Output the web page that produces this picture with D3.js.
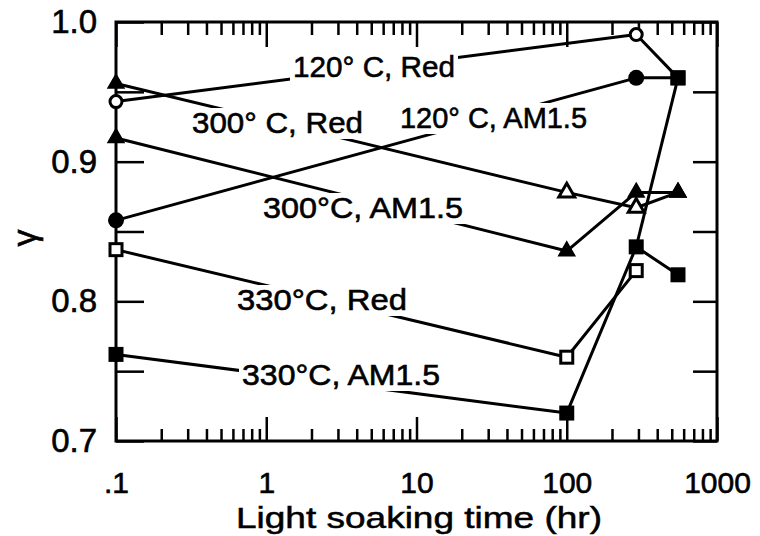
<!DOCTYPE html>
<html>
<head>
<meta charset="utf-8">
<script src="https://cdn.jsdelivr.net/npm/d3@7"></script>
<style>
  body { margin: 0; background: #fff; }
  svg { display: block; }
  text { font-family: "Liberation Sans", Arial, sans-serif; fill: #000; }
</style>
</head>
<body>
<div id="chart"></div>
<script>
// values (gamma vs light soaking time)
const seriesNames = ["120° C, Red", "120° C, AM1.5", "300° C, Red", "300°C, AM1.5", "330°C, Red", "330°C, AM1.5"];
const seriesTimes = [
    [0.1, 290, 550],
    [0.1, 290, 550],
    [0.1, 100, 290, 550],
    [0.1, 100, 290, 550],
    [0.1, 100, 290],
    [0.1, 100, 290, 550]
];
const seriesGamma = [
    [0.943, 0.991, 0.960],
    [0.858, 0.960, 0.960],
    [0.956, 0.878, 0.867, 0.878],
    [0.917, 0.836, 0.878, 0.878],
    [0.837, 0.760, 0.822],
    [0.762, 0.720, 0.839, 0.819]
];
const seriesMarkers = [
    ["circleOpen", "circleOpen", "squareFilled"],
    ["circleFilled", "circleFilled", "squareFilled"],
    ["triFilled", "triOpen", "triOpen", "triFilled"],
    ["triFilled", "triFilled", "triFilled", "triFilled"],
    ["squareOpen", "squareOpen", "squareOpen"],
    ["squareFilled", "squareFilled", "squareFilled", "squareFilled"]
];
// extra segment in the figure: 290 hr square tied up to the 550 hr point at 0.96
const linkTimes = [290, 550];
const linkGamma = [0.839, 0.960];

const xTickValues = [0.1, 1, 10, 100, 1000];
const xTickLabels = [".1", "1", "10", "100", "1000"];
const yTickValues = [0.7, 0.75, 0.8, 0.85, 0.9, 0.95, 1.0];
const yTickLabels = ["0.7", "", "0.8", "", "0.9", "", "1.0"];

// where the curve labels sit (left edge, baseline, width in px)
const labelLayout = [
    { x: 293, y: 77, w: 162 },
    { x: 400, y: 128, w: 187 },
    { x: 192, y: 133, w: 171 },
    { x: 263, y: 218, w: 200 },
    { x: 237, y: 310, w: 170 },
    { x: 242, y: 385, w: 198 }
];

const width = 760, height = 536;
const plotLeft = 116, plotRight = 717, plotTop = 22, plotBottom = 441;

const x = d3.scaleLog().domain([0.1, 1000]).range([plotLeft, plotRight]);
const y = d3.scaleLinear().domain([0.7, 1.0]).range([plotBottom, plotTop]);

const svg = d3.select('#chart')
    .append('svg')
    .attr('width', width)
    .attr('height', height);

// minor log ticks 2..9 in each decade
let minorTicks = [];
[0.1, 1, 10, 100].forEach(function (dec) {
    for (let k = 2; k <= 9; k++) minorTicks.push(dec * k);
});

function styleAxis(g) {
    g.select('.domain').remove();
    g.selectAll('.tick line').attr('stroke', '#000').attr('stroke-width', 2.5);
}

// bottom axis, ticks pointing inward
svg.append('g')
    .attr('transform', 'translate(0,' + plotBottom + ')')
    .call(d3.axisBottom(x).tickValues(minorTicks).tickSize(-12).tickFormat(''))
    .call(styleAxis);
svg.append('g')
    .attr('transform', 'translate(0,' + plotBottom + ')')
    .call(d3.axisBottom(x).tickValues(xTickValues).tickSize(-24).tickPadding(31)
        .tickFormat((d, i) => xTickLabels[i]))
    .call(styleAxis)
    .selectAll('text')
    .attr('font-size', 30)
    .attr('font-family', '"Liberation Sans", Arial, sans-serif')
    .style('stroke', '#000').style('stroke-width', 0.6);

// top axis
svg.append('g')
    .attr('transform', 'translate(0,' + plotTop + ')')
    .call(d3.axisTop(x).tickValues(minorTicks).tickSize(-13).tickFormat(''))
    .call(styleAxis);
svg.append('g')
    .attr('transform', 'translate(0,' + plotTop + ')')
    .call(d3.axisTop(x).tickValues(xTickValues).tickSize(-25).tickFormat(''))
    .call(styleAxis);

// left axis
svg.append('g')
    .attr('transform', 'translate(' + plotLeft + ',0)')
    .call(d3.axisLeft(y).tickValues(yTickValues).tickSize(-28).tickPadding(19)
        .tickFormat((d, i) => yTickLabels[i]))
    .call(styleAxis)
    .selectAll('text')
    .attr('font-size', 33)
    .attr('font-family', '"Liberation Sans", Arial, sans-serif')
    .style('stroke', '#000').style('stroke-width', 0.6);

// right axis
svg.append('g')
    .attr('transform', 'translate(' + plotRight + ',0)')
    .call(d3.axisRight(y).tickValues(yTickValues).tickSize(-24).tickFormat(''))
    .call(styleAxis);

// frame
svg.append('rect')
    .attr('x', plotLeft).attr('y', plotTop)
    .attr('width', plotRight - plotLeft).attr('height', plotBottom - plotTop)
    .attr('fill', 'none').attr('stroke', '#000').attr('stroke-width', 3);

// axis titles
svg.append('text')
    .attr('x', 236).attr('y', 528)
    .attr('font-size', 29)
    .attr('textLength', 366).attr('lengthAdjust', 'spacingAndGlyphs')
    .style('stroke', '#000').style('stroke-width', 0.5)
    .text('Light soaking time (hr)');

svg.append('text')
    .attr('transform', 'translate(36,238) rotate(-90)')
    .attr('text-anchor', 'middle')
    .attr('font-size', 34)
    .style('stroke', '#000').style('stroke-width', 0.6)
    .text('γ');

// series lines
const line = d3.line().x(d => x(d.t)).y(d => y(d.g));
const series = seriesNames.map(function (name, i) {
    return {
        name: name,
        points: seriesTimes[i].map((t, j) => ({ t: t, g: seriesGamma[i][j], m: seriesMarkers[i][j] }))
    };
});

const lines = svg.append('g');
lines.selectAll('path.series')
    .data(series)
    .enter().append('path')
    .attr('class', 'series')
    .attr('d', d => line(d.points))
    .attr('fill', 'none')
    .attr('stroke', '#000')
    .attr('stroke-width', 3)
    .attr('stroke-linejoin', 'round');

lines.append('path')
    .attr('d', line(linkTimes.map((t, j) => ({ t: t, g: linkGamma[j] }))))
    .attr('fill', 'none')
    .attr('stroke', '#000')
    .attr('stroke-width', 3);

// curve labels, knocked out of the lines
const labels = svg.append('g');
series.forEach(function (s, i) {
    let L = labelLayout[i];
    labels.append('rect')
        .attr('x', L.x - 3).attr('y', L.y - 25)
        .attr('width', L.w + 6).attr('height', 31)
        .attr('fill', '#fff');
    labels.append('text')
        .attr('x', L.x).attr('y', L.y)
        .attr('font-size', 30)
        .attr('textLength', L.w).attr('lengthAdjust', 'spacingAndGlyphs')
        .style('stroke', '#000').style('stroke-width', 0.6)
        .text(s.name);
});

// markers on top
const allPoints = [];
series.forEach(s => s.points.forEach(p => allPoints.push(p)));
const tri = d3.symbol().type(d3.symbolTriangle).size(110);

const marks = svg.append('g');
allPoints.forEach(function (p) {
    let cx = x(p.t), cy = y(p.g);
    if (p.m === 'circleOpen') {
        marks.append('circle').attr('cx', cx).attr('cy', cy).attr('r', 6)
            .attr('fill', '#fff').attr('stroke', '#000').attr('stroke-width', 3);
    } else if (p.m === 'circleFilled') {
        marks.append('circle').attr('cx', cx).attr('cy', cy).attr('r', 8).attr('fill', '#000');
    } else if (p.m === 'squareOpen') {
        marks.append('rect').attr('x', cx - 6).attr('y', cy - 6).attr('width', 12).attr('height', 12)
            .attr('fill', '#fff').attr('stroke', '#000').attr('stroke-width', 3);
    } else if (p.m === 'squareFilled') {
        marks.append('rect').attr('x', cx - 7.5).attr('y', cy - 7.5).attr('width', 15).attr('height', 15)
            .attr('fill', '#000');
    } else if (p.m === 'triOpen') {
        marks.append('path').attr('d', tri).attr('transform', 'translate(' + cx + ',' + cy + ')')
            .attr('fill', '#fff').attr('stroke', '#000').attr('stroke-width', 3);
    } else {
        marks.append('path').attr('d', tri).attr('transform', 'translate(' + cx + ',' + cy + ')')
            .attr('fill', '#000').attr('stroke', '#000').attr('stroke-width', 1.5);
    }
});
</script>
</body>
</html>
